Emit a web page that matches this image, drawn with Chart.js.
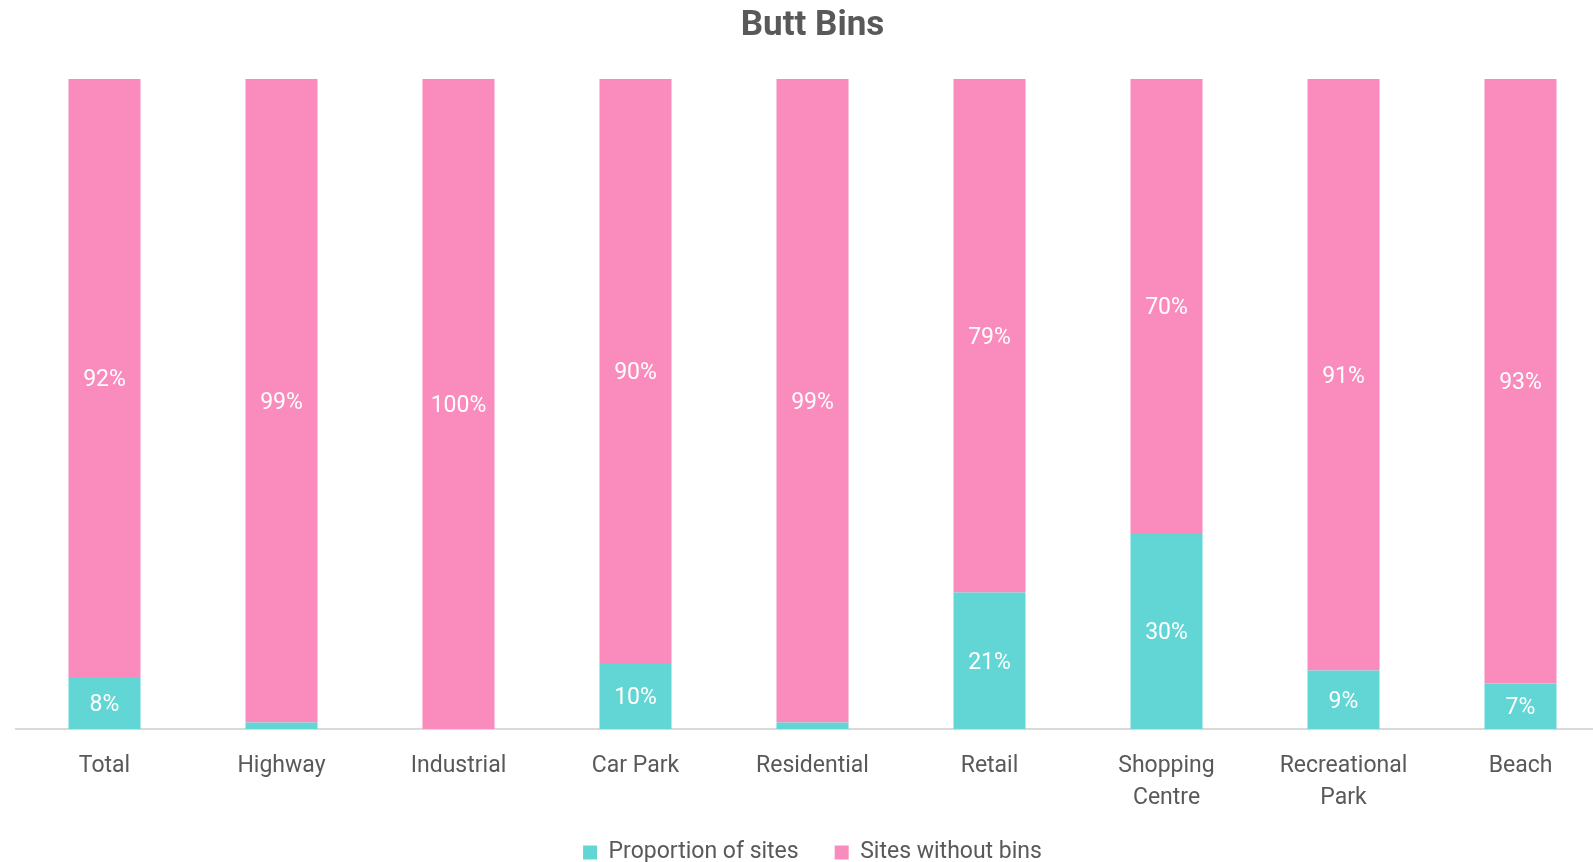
<!DOCTYPE html>
<html>
<head>
<meta charset="utf-8">
<script src="https://cdn.jsdelivr.net/npm/chart.js@4.4.1/dist/chart.umd.min.js"></script>
<style>
  html, body { margin: 0; padding: 0; background: #fff; overflow: hidden; }
  #wrap { width: 1625px; height: 862px; position: relative; }
</style>
</head>
<body>
<div id="wrap"><canvas id="graficoBins"></canvas></div>
<script>
const categorias = ['Total', 'Highway', 'Industrial', 'Car Park', 'Residential', 'Retail', ['Shopping', 'Centre'], ['Recreational', 'Park'], 'Beach'];
const comBins = [8, 1, 0, 10, 1, 21, 30, 9, 7];
const semBins = [92, 99, 100, 90, 99, 79, 70, 91, 93];

const corTexto = '#595959';
const fonte = 'Roboto';

// rotulos brancos no meio de cada segmento
const rotulosPlugin = {
    id: 'rotulos',
    afterLayout(chart) {
        // deixa espaco para a segunda linha dos rotulos do eixo x
        chart.scales.x.bottom += 30;
    },
    afterDatasetsDraw(chart) {
        const ctx = chart.ctx;
        ctx.save();
        ctx.fillStyle = '#ffffff';
        ctx.font = '23px ' + fonte;
        ctx.textAlign = 'center';
        ctx.textBaseline = 'middle';
        chart.data.datasets.forEach((ds, i) => {
            const meta = chart.getDatasetMeta(i);
            meta.data.forEach((bar, j) => {
                const v = ds.data[j];
                if (v <= 1) return;
                ctx.fillText(v + '%', bar.x, (bar.y + bar.base) / 2 + 2);
            });
        });
        ctx.restore();
    }
};

const ctx = document.getElementById('graficoBins').getContext('2d');
new Chart(ctx, {
    type: 'bar',
    data: {
        labels: categorias,
        datasets: [
            {
                label: 'Proportion of sites',
                data: comBins,
                backgroundColor: '#62d6d4',
                barPercentage: 0.407,
                categoryPercentage: 1
            },
            {
                label: 'Sites without bins',
                data: semBins,
                backgroundColor: '#f98cbc',
                barPercentage: 0.407,
                categoryPercentage: 1
            }
        ]
    },
    options: {
        responsive: true,
        maintainAspectRatio: false,
        animation: false,
        layout: { padding: { left: 16, right: 16, top: 0, bottom: -12 } },
        plugins: {
            title: {
                display: true,
                text: 'Butt Bins',
                color: corTexto,
                font: { family: fonte, size: 35, weight: 'bold', lineHeight: 1.2 },
                padding: { top: 5, bottom: 32 }
            },
            legend: {
                position: 'bottom',
                labels: {
                    color: corTexto,
                    font: { family: fonte, size: 23 },
                    boxWidth: 14,
                    boxHeight: 14,
                    padding: 36
                }
            },
            tooltip: { enabled: false }
        },
        scales: {
            x: {
                stacked: true,
                grid: { display: false, drawTicks: false },
                border: { display: true, color: '#d9d9d9', width: 2 },
                ticks: {
                    color: corTexto,
                    padding: 21,
                    font: { family: fonte, size: 23, lineHeight: 1.4 },
                    maxRotation: 0
                },
                afterFit(scale) {
                    scale.height = 76;
                }
            },
            y: {
                stacked: true,
                display: false,
                min: 0,
                max: 100
            }
        }
    },
    plugins: [rotulosPlugin]
});
</script>
</body>
</html>
